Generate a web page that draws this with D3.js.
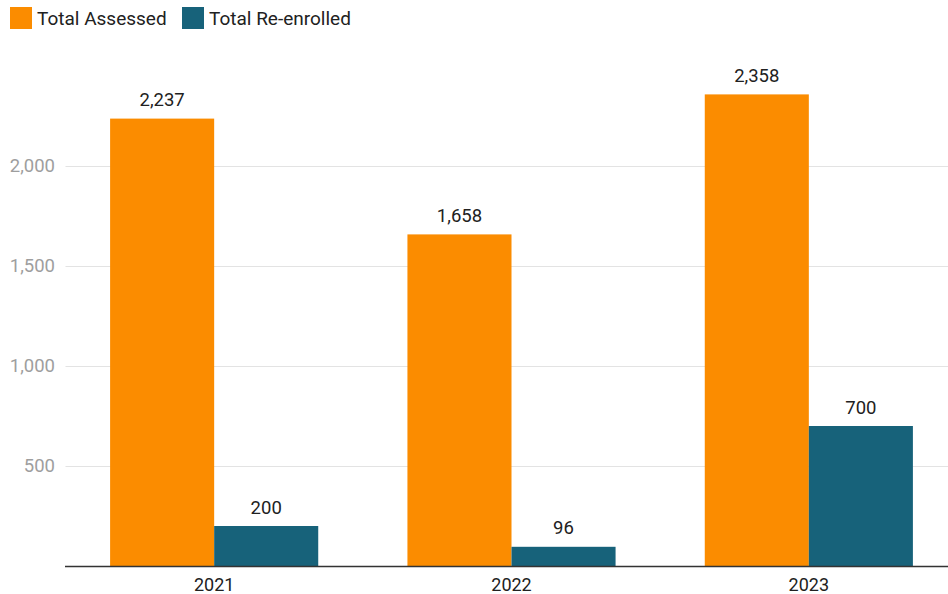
<!DOCTYPE html>
<html>
<head>
<meta charset="utf-8">
<script src="https://cdn.jsdelivr.net/npm/d3@7"></script>
<style>
  body { margin: 0; background: #fff; }
  svg { display: block; font-family: Roboto, sans-serif; }
</style>
</head>
<body>
<svg id="chart"></svg>
<script>
const years = ["2021", "2022", "2023"];
const seriesNames = ["Total Assessed", "Total Re-enrolled"];
const assessed = [2237, 1658, 2358];
const reenrolled = [200, 96, 700];
const yTicks = [500, 1000, 1500, 2000];

const width = 948;
const height = 594;
const colors = ["#fb8c00", "#17627a"];

const svg = d3.select("#chart").attr("width", width).attr("height", height);

const x = d3.scaleBand()
  .domain(years)
  .range([65.5, 957.5])
  .paddingInner(0.3)
  .paddingOuter(0.15);

const xs = d3.scaleBand()
  .domain(seriesNames)
  .range([0, x.bandwidth()]);

const y = d3.scaleLinear()
  .domain([0, 2500])
  .range([566, 66]);

// gridlines + y labels
const grid = svg.append("g");
grid.selectAll("line")
  .data(yTicks)
  .enter().append("line")
  .attr("x1", 65.5).attr("x2", width)
  .attr("y1", d => y(d) + 0.5).attr("y2", d => y(d) + 0.5)
  .attr("stroke", "#e3e3e3")
  .attr("stroke-width", 1);

grid.selectAll("text")
  .data(yTicks)
  .enter().append("text")
  .attr("x", 55)
  .attr("y", d => y(d))
  .attr("dy", "0.35em")
  .attr("text-anchor", "end")
  .attr("fill", "#9e9e9e")
  .style("font-size", "18.5px")
  .text(d => d3.format(",")(d));

// bars
const rows = years.map((yr, i) => ({
  year: yr,
  values: [
    { name: seriesNames[0], value: assessed[i] },
    { name: seriesNames[1], value: reenrolled[i] }
  ]
}));

const groups = svg.append("g").selectAll("g")
  .data(rows)
  .enter().append("g")
  .attr("transform", d => `translate(${x(d.year)},0)`);

groups.selectAll("rect")
  .data(d => d.values)
  .enter().append("rect")
  .attr("x", d => xs(d.name))
  .attr("y", d => y(d.value))
  .attr("width", xs.bandwidth())
  .attr("height", d => y(0) - y(d.value))
  .attr("fill", (d, i) => colors[i]);

groups.selectAll("text")
  .data(d => d.values)
  .enter().append("text")
  .attr("x", d => xs(d.name) + xs.bandwidth() / 2)
  .attr("y", d => y(d.value) - 12.5)
  .attr("text-anchor", "middle")
  .attr("fill", "#212121")
  .style("font-size", "18.5px")
  .text(d => d3.format(",")(d.value));

// baseline
svg.append("line")
  .attr("x1", 65).attr("x2", width)
  .attr("y1", y(0) + 0.5).attr("y2", y(0) + 0.5)
  .attr("stroke", "#333")
  .attr("stroke-width", 1.3);

// x labels
svg.append("g").selectAll("text")
  .data(years)
  .enter().append("text")
  .attr("x", d => x(d) + x.bandwidth() / 2)
  .attr("y", 590.5)
  .attr("text-anchor", "middle")
  .attr("fill", "#212121")
  .style("font-size", "18px")
  .text(d => d);

// legend
const legendX = [10, 182];
const legend = svg.append("g").selectAll("g")
  .data(seriesNames)
  .enter().append("g")
  .attr("transform", (d, i) => `translate(${legendX[i]},7)`);

legend.append("rect")
  .attr("width", 22).attr("height", 22)
  .attr("fill", (d, i) => colors[i]);

legend.append("text")
  .attr("x", 27)
  .attr("y", 11)
  .attr("dy", "0.35em")
  .attr("fill", "#212121")
  .style("font-size", "19px")
  .text(d => d);
</script>
</body>
</html>
